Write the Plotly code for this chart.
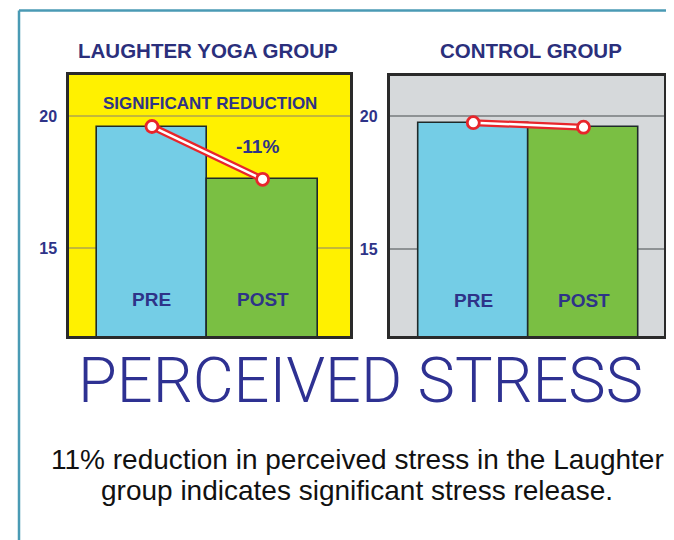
import plotly.graph_objects as go

# ---- data ----
groups = ["LAUGHTER YOGA GROUP", "CONTROL GROUP"]
phases = ["PRE", "POST"]
laughter_values = [19.6, 17.6]
control_values = [19.75, 19.58]
y_ticks = [15, 20]
y_tick_labels = ["15", "20"]
change_label = "-11%"
note_label = "SIGNIFICANT REDUCTION"
main_title = "PERCEIVED STRESS"
caption_lines = ["11% reduction in perceived stress in the Laughter",
                 "group indicates significant stress release."]

OFF = 8  # page body margin
W, H = 674 - OFF, 540 - OFF
NAVY = "#2E3388"
BAR_COLORS = ["#74CDE6", "#7ABF43"]
RED = "#E8252B"


def px(x):
    return (x - OFF) / W


def py(y):
    return 1 - (y - OFF) / H


fig = go.Figure()

panels = [
    dict(vals=laughter_values, xa="x", ya="y", bg="#FFF100", grid="#C3B83A",
         xdom=[px(69), px(350)], ydom=[py(336), py(75)], yr=[11.67, 21.55], xr=[-0.75, 1.79]),
    dict(vals=control_values, xa="x2", ya="y2", bg="#D6D9DB", grid="#8E9294",
         xdom=[px(389.5), px(664)], ydom=[py(336), py(76)], yr=[11.75, 21.5], xr=[-0.76, 1.73]),
]

xs = [0, 1]
for i, p in enumerate(panels):
    fig.add_trace(go.Bar(x=xs, y=p["vals"], width=1, xaxis=p["xa"], yaxis=p["ya"],
                         marker=dict(color=BAR_COLORS, line=dict(color="#1F2A2A", width=1.6)),
                         showlegend=False, hoverinfo="skip"))
    fig.add_trace(go.Scatter(x=xs, y=p["vals"], mode="lines", xaxis=p["xa"], yaxis=p["ya"],
                             line=dict(color=RED, width=7), showlegend=False, hoverinfo="skip"))
    fig.add_trace(go.Scatter(x=xs, y=p["vals"], mode="lines+markers", xaxis=p["xa"], yaxis=p["ya"],
                             line=dict(color="white", width=2.5),
                             marker=dict(size=12, color="white", line=dict(color=RED, width=2.8)),
                             showlegend=False, hoverinfo="skip"))
    sfx = "" if i == 0 else str(i + 1)
    fig.update_layout(**{
        "xaxis" + sfx: dict(domain=p["xdom"], range=p["xr"], showticklabels=False, showgrid=False,
                             zeroline=False, showline=True, mirror=True, linecolor="#2A2A2A",
                             linewidth=2.5, anchor="y" + sfx, fixedrange=True),
        "yaxis" + sfx: dict(domain=p["ydom"], range=p["yr"], tickvals=y_ticks, ticktext=y_tick_labels,
                             showgrid=True, gridcolor=p["grid"], gridwidth=1.5, zeroline=False,
                             showline=True, mirror=True, linecolor="#2A2A2A", linewidth=2.5,
                             ticks="", ticklabelstandoff=6,
                             tickfont=dict(family="Liberation Sans, Arial", size=16, color=NAVY,
                                           weight="bold"),
                             anchor="x" + sfx, fixedrange=True),
    })
    fig.add_shape(type="rect", xref=p["xa"] + " domain", yref=p["ya"] + " domain",
                  x0=0, x1=1, y0=0, y1=1, fillcolor=p["bg"], line=dict(width=0), layer="below")
    for j, ph in enumerate(phases):
        fig.add_annotation(x=xs[j], y=13.07, xref=p["xa"], yref=p["ya"], text=ph, showarrow=False,
                           xanchor="center", yanchor="middle",
                           font=dict(family="Liberation Sans, Arial", size=19, color=NAVY, weight="bold"))


def label(x, y, text, size, color, family="Liberation Sans, Arial", weight="bold"):
    fig.add_annotation(x=px(x), y=py(y), xref="paper", yref="paper", text=text, showarrow=False,
                       xanchor="center", yanchor="middle",
                       font=dict(family=family, size=size, color=color, weight=weight))


# group titles
label(208, 50, groups[0], 20.5, "#2B2F7C")
label(531, 50, groups[1], 20.5, "#2B2F7C")

# in-panel labels
label(210, 103, note_label, 17, NAVY)
label(257, 146, change_label, 19, NAVY)

# big title
label(360, 380, main_title, 63, "#2E3192", family="Roboto", weight=300)

# caption
for k, line in enumerate(caption_lines):
    label(357, 459 + 31 * k, line, 28, "#111111", weight="normal")

# outer frame
fig.add_shape(type="line", xref="paper", yref="paper", x0=px(19), x1=1, y0=py(10.5), y1=py(10.5),
              line=dict(color="#4A9AB4", width=2.5))
fig.add_shape(type="line", xref="paper", yref="paper", x0=px(19), x1=px(19), y0=py(10.5), y1=0,
              line=dict(color="#4A9AB4", width=2.5))

fig.update_layout(width=W, height=H, margin=dict(l=0, r=0, t=0, b=0),
                  paper_bgcolor="white", plot_bgcolor="rgba(0,0,0,0)", bargap=0,
                  showlegend=False)

fig.write_html("out.html")
